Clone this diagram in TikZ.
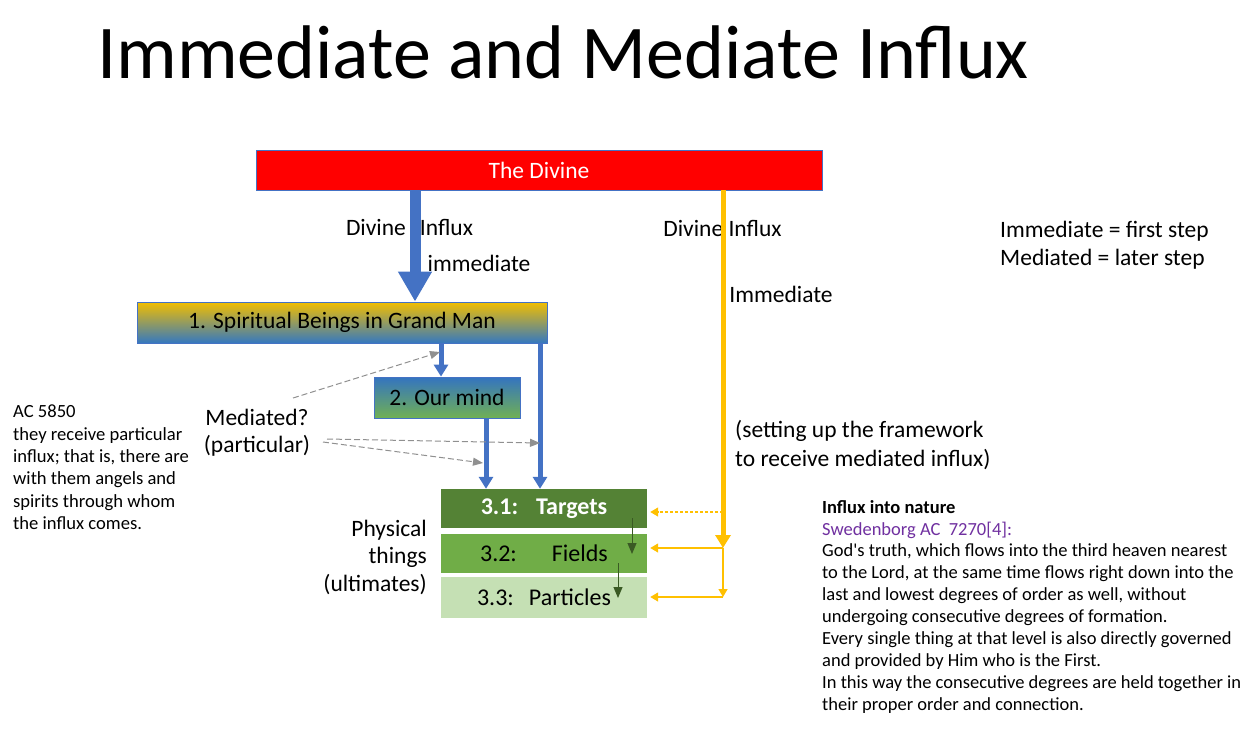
\documentclass[tikz,border=0pt]{standalone}
\usepackage{fontspec}
\setmainfont{Carlito}
\usetikzlibrary{arrows.meta}
\definecolor{divred}{HTML}{FF0000}
\definecolor{bblue}{HTML}{4472C4}
\definecolor{gold}{HTML}{FFC000}
\definecolor{ga}{HTML}{548235}
\definecolor{gb}{HTML}{70AD47}
\definecolor{gc}{HTML}{C5E0B4}
\definecolor{dgreen}{HTML}{3A5A24}
\definecolor{purp}{HTML}{7030A0}
\definecolor{dgray}{HTML}{909090}
\newcommand{\fs}[2]{\fontsize{#1}{#2}\selectfont}
\tikzset{
  boxed/.style={rectangle, inner sep=0pt, draw=bblue, line width=0.8pt},
  lvl/.style={rectangle, inner sep=0pt, minimum width=206pt, font=\fs{24}{28}},
  txt/.style={inner sep=0pt, font=\fs{23.5}{28}},
  bigarrow/.style={bblue, line width=11pt, -{Triangle[width=32pt,length=30pt]}},
  bluearrow/.style={bblue, line width=5pt, -{Triangle[width=14pt,length=12pt]}},
  goldthick/.style={gold, line width=5pt, -{Triangle[width=15pt,length=13pt]}},
  goldthin/.style={gold, line width=1.3pt, -{Triangle[width=9pt,length=8pt]}},
  grayarrow/.style={dgray, line width=1pt, dash pattern=on 6pt off 3pt, -{Triangle[width=8pt,length=10pt]}},
  greenarrow/.style={dgreen, line width=1pt, -{Triangle[width=9pt,length=11pt]}}
}
\begin{document}
\begin{tikzpicture}[x=1pt,y=-1pt]
\useasboundingbox[fill=white] (0,0) rectangle (1249,748);

% title
\node[inner sep=0pt, font=\fs{76}{80}] (title) at (563,52) {Immediate and Mediate Influx};

% boxes
\node[boxed, fill=divred, minimum width=566pt, minimum height=40pt, text=white, font=\fs{23.5}{28}] (divine) at (539,170) {The Divine};
\node[boxed, top color={rgb,255:red,242;green,190;blue,0}, bottom color={rgb,255:red,52;green,120;blue,192}, minimum width=410pt, minimum height=41pt, font=\fs{23.5}{28}] (sb) at (342,322.5) {1. Spiritual Beings in Grand Man};
\node[boxed, top color={rgb,255:red,52;green,116;blue,192}, bottom color={rgb,255:red,112;green,176;blue,84}, minimum width=146pt, minimum height=41pt, font=\fs{23.5}{28}] (mind) at (447,397.5) {2. Our mind};

\node[lvl, fill=ga, minimum height=39pt, text=white, font=\fs{24}{28}\bfseries] (b31) at (544,508.5) {3.1:\hspace{18pt}Targets};
\node[lvl, fill=gb, minimum height=39pt] (b32) at (544,553.5) {3.2:\hspace{35pt}Fields};
\node[lvl, fill=gc, minimum height=41pt] (b33) at (544,597.5) {3.3:\hspace{15pt}Particles};

% labels
\node[txt] (di1) at (409.5,227) {Divine\hspace{14pt}Influx};
\node[txt] (imm1) at (479,263) {immediate};
\node[txt] (di2) at (722.5,228) {Divine Influx};
\node[txt] (imm2) at (781,294) {Immediate};
\node[txt, align=center, font=\fs{23.5}{27}] (med) at (257,433) {Mediated?\\(particular)};
\node[txt, align=right, anchor=east, font=\fs{23.5}{27.5}] (phys) at (427,557) {Physical\\things\\(ultimates)};
\node[txt, align=left, anchor=west, font=\fs{23.5}{29}] (setup) at (735,445) {(setting up the framework\\to receive mediated influx)};
\node[txt, align=left, anchor=west, font=\fs{23.5}{28}] (legend) at (1000,245) {Immediate = first step\\Mediated = later step};
\node[txt, align=left, anchor=north west, font=\fs{18.6}{22.3}] (ac) at (13,405) {AC 5850\\they receive particular\\influx; that is, there are\\with them angels and\\spirits through whom\\the influx comes.};
\node[txt, align=left, anchor=north west, font=\fs{18.5}{21.9}] (nature) at (822,500) {\textbf{Influx into nature}\\\textcolor{purp}{Swedenborg AC\ \ 7270[4]:}\\God\textquotesingle s truth, which flows into the third heaven nearest\\to the Lord, at the same time flows right down into the\\last and lowest degrees of order as well, without\\undergoing consecutive degrees of formation.\\Every single thing at that level is also directly governed\\and provided by Him who is the First.\\In this way the consecutive degrees are held together in\\their proper order and connection.};

% blue arrows
\draw[bigarrow] ([xshift=-124pt]divine.south) -- ([xshift=73pt]sb.north);
\draw[bluearrow] ([xshift=99pt]sb.south) -- ([xshift=-6pt]mind.north);
\draw[bluearrow] ([xshift=198pt]sb.south) -- ([xshift=-4pt]b31.north);
\draw[bluearrow] ([xshift=39pt]mind.south) -- ([xshift=-58pt]b31.north);

% gold arrows
\coordinate (ya) at (723,512);
\coordinate (yj) at (723,548);
\coordinate (yk) at (723,597);
\draw[goldthick] ([xshift=184pt]divine.south) -- (yj);
\draw[goldthin, dash pattern=on 3pt off 2pt] (ya) -- ([xshift=3pt]b31.east |- ya);
\draw[goldthin] (yj) -- ([xshift=3pt]b32.east |- yj);
\draw[goldthin] (yj) -- (yk);
\draw[goldthin] (yk) -- ([xshift=3pt]b33.east |- yk);

% green arrows
\coordinate (ga1) at (632,518);
\coordinate (ga2) at (632,554);
\coordinate (gb1) at (618,563);
\coordinate (gb2) at (618,598);
\draw[greenarrow] (ga1) -- (ga2);
\draw[greenarrow] (gb1) -- (gb2);

% gray dashed arrows
\coordinate (m1) at (293,398);
\coordinate (m2) at (327,439);
\coordinate (m3) at (323,442);
\coordinate (e1) at (440,352);
\coordinate (e2) at (540,443);
\coordinate (e3) at (483,463);
\draw[grayarrow] (m1) -- (e1);
\draw[grayarrow] (m2) -- (e2);
\draw[grayarrow] (m3) -- (e3);
\end{tikzpicture}
\end{document}
